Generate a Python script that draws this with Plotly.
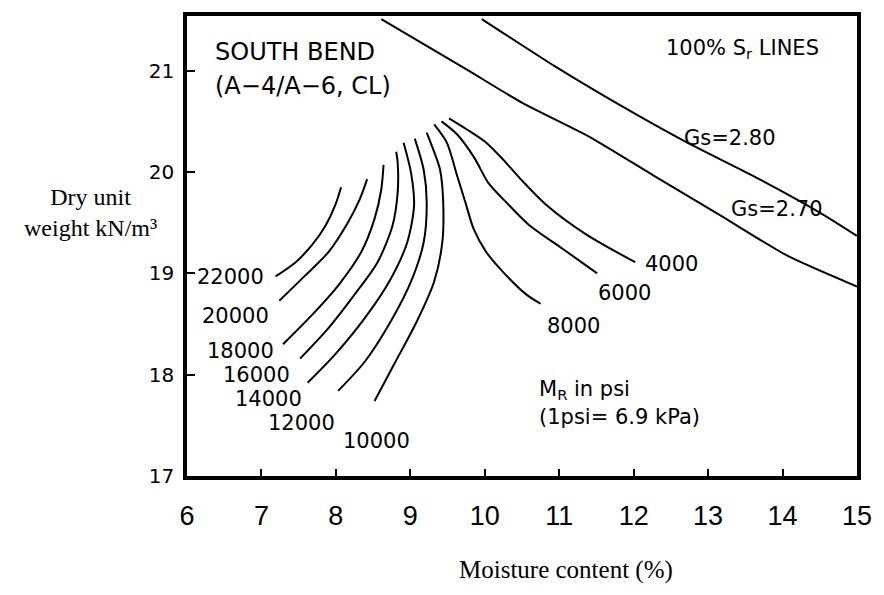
import plotly.graph_objects as go

# Resilient modulus contours (MR, psi) on the moisture / dry unit weight plane
mr_labels = ["22000", "20000", "18000", "16000", "14000", "12000", "10000", "8000", "6000", "4000"]

w_22000 = [7.19, 7.46, 7.68, 7.86, 7.99, 8.07]
g_22000 = [18.97, 19.11, 19.28, 19.47, 19.67, 19.85]

w_20000 = [7.24, 7.59, 7.90, 8.16, 8.32, 8.42]
g_20000 = [18.73, 18.98, 19.21, 19.50, 19.73, 19.93]

w_18000 = [7.29, 7.68, 8.03, 8.34, 8.52, 8.61, 8.64]
g_18000 = [18.30, 18.59, 18.88, 19.21, 19.54, 19.83, 20.07]

w_16000 = [7.52, 7.90, 8.25, 8.56, 8.76, 8.83, 8.83, 8.81]
g_16000 = [18.16, 18.46, 18.79, 19.11, 19.47, 19.80, 20.09, 20.20]

w_14000 = [7.62, 7.99, 8.39, 8.74, 8.96, 9.05, 9.01, 8.91]
g_14000 = [17.92, 18.20, 18.56, 18.95, 19.31, 19.67, 19.99, 20.29]

w_12000 = [8.03, 8.39, 8.74, 9.01, 9.18, 9.22, 9.18, 9.06]
g_12000 = [17.84, 18.13, 18.53, 18.92, 19.31, 19.70, 20.02, 20.33]

w_10000 = [8.52, 8.78, 9.09, 9.32, 9.43, 9.44, 9.40, 9.34, 9.22]
g_10000 = [17.74, 18.10, 18.53, 18.92, 19.31, 19.73, 20.02, 20.16, 20.39]

w_8000 = [9.32, 9.49, 9.63, 9.74, 9.85, 10.02, 10.25, 10.56, 10.75]
g_8000 = [20.47, 20.29, 19.96, 19.70, 19.44, 19.21, 19.01, 18.79, 18.70]

w_6000 = [9.42, 9.63, 9.86, 10.05, 10.29, 10.59, 11.05, 11.51]
g_6000 = [20.50, 20.37, 20.14, 19.89, 19.70, 19.48, 19.24, 19.00]

w_4000 = [9.52, 9.76, 10.02, 10.25, 10.47, 10.82, 11.35, 12.02]
g_4000 = [20.53, 20.42, 20.29, 20.12, 19.94, 19.68, 19.39, 19.11]

# Contour label anchor points (moisture %, unit weight)
label_w = [6.58, 6.65, 6.72, 6.93, 7.09, 7.54, 8.54, 11.19, 11.88, 12.51]
label_g = [18.96, 18.58, 18.23, 18.00, 17.76, 17.52, 17.35, 18.48, 18.81, 19.09]

# 100% saturation lines
w_gs280 = [9.96, 10.95, 11.84, 12.72, 13.61, 14.50, 15.00]
g_gs280 = [21.51, 21.04, 20.65, 20.29, 19.96, 19.60, 19.37]

w_gs270 = [8.61, 9.76, 10.51, 11.40, 12.28, 13.17, 14.05, 15.00]
g_gs270 = [21.51, 21.01, 20.68, 20.35, 19.96, 19.57, 19.18, 18.87]

x_ticks = [6, 7, 8, 9, 10, 11, 12, 13, 14, 15]
y_ticks = [17, 18, 19, 20, 21]

curves_w = [w_22000, w_20000, w_18000, w_16000, w_14000, w_12000, w_10000, w_8000, w_6000, w_4000]
curves_g = [g_22000, g_20000, g_18000, g_16000, g_14000, g_12000, g_10000, g_8000, g_6000, g_4000]

LABEL_FONT = dict(family="DejaVu Sans", size=21, color="black")

fig = go.Figure()

for w, g in zip(curves_w, curves_g):
    fig.add_trace(go.Scatter(x=w, y=g, mode="lines",
                             line=dict(color="black", width=2, shape="spline", smoothing=0.8),
                             hoverinfo="skip", showlegend=False))

for w, g in [(w_gs280, g_gs280), (w_gs270, g_gs270)]:
    fig.add_trace(go.Scatter(x=w, y=g, mode="lines",
                             line=dict(color="black", width=2, shape="spline", smoothing=0.6),
                             hoverinfo="skip", showlegend=False))

annotations = []
for lab, lx, ly in zip(mr_labels, label_w, label_g):
    annotations.append(dict(x=lx, y=ly, xref="x", yref="y", text=lab, showarrow=False,
                            font=LABEL_FONT, xanchor="center", yanchor="middle"))

annotations += [
    dict(x=13.29, y=20.34, xref="x", yref="y", text="Gs=2.80", showarrow=False,
         font=LABEL_FONT, xanchor="center", yanchor="middle"),
    dict(x=13.92, y=19.64, xref="x", yref="y", text="Gs=2.70", showarrow=False,
         font=LABEL_FONT, xanchor="center", yanchor="middle"),
    dict(x=6.35, y=21.18, xref="x", yref="y", text="SOUTH BEND", showarrow=False,
         font=dict(family="DejaVu Sans", size=24, color="black"), xanchor="left", yanchor="middle"),
    dict(x=6.35, y=20.85, xref="x", yref="y", text="(A−4/A−6, CL)", showarrow=False,
         font=dict(family="DejaVu Sans", size=24, color="black"), xanchor="left", yanchor="middle"),
    dict(x=12.41, y=21.21, xref="x", yref="y", text="100% S<sub>r</sub> LINES", showarrow=False,
         font=LABEL_FONT, xanchor="left", yanchor="middle"),
    dict(x=10.70, y=17.85, xref="x", yref="y", text="M<sub>R</sub> in psi", showarrow=False,
         font=LABEL_FONT, xanchor="left", yanchor="middle"),
    dict(x=10.70, y=17.58, xref="x", yref="y", text="(1psi= 6.9 kPa)", showarrow=False,
         font=LABEL_FONT, xanchor="left", yanchor="middle"),
    # axis titles
    dict(x=-0.1445, y=0.573, xref="paper", yref="paper", text="Dry unit<br>weight kN/m³",
         showarrow=False, align="center",
         font=dict(family="Liberation Serif", size=24, color="black"),
         xanchor="center", yanchor="middle"),
    dict(x=0.565, y=-0.205, xref="paper", yref="paper", text="Moisture content (%)",
         showarrow=False, font=dict(family="Liberation Serif", size=25, color="black"),
         xanchor="center", yanchor="middle"),
]

fig.update_layout(
    width=884, height=595,
    margin=dict(l=187, r=19, t=12, b=119),
    paper_bgcolor="white", plot_bgcolor="white",
    annotations=annotations,
    xaxis=dict(range=[6, 15], tickvals=x_ticks, ticktext=[str(v) for v in x_ticks],
               ticks="inside", ticklen=7, tickwidth=2, tickcolor="black",
               showline=True, linecolor="black", linewidth=3.5, mirror=True,
               showgrid=False, zeroline=False, ticklabelstandoff=13,
               tickfont=dict(family="Liberation Sans", size=27, color="black")),
    yaxis=dict(range=[17, 21.54], tickvals=y_ticks, ticktext=[str(v) for v in y_ticks],
               ticks="inside", ticklen=8, tickwidth=2, tickcolor="black",
               showline=True, linecolor="black", linewidth=3.5, mirror=True,
               showgrid=False, zeroline=False, ticklabelstandoff=5,
               tickfont=dict(family="DejaVu Sans", size=20, color="black")),
)

fig.write_html("out.html")
